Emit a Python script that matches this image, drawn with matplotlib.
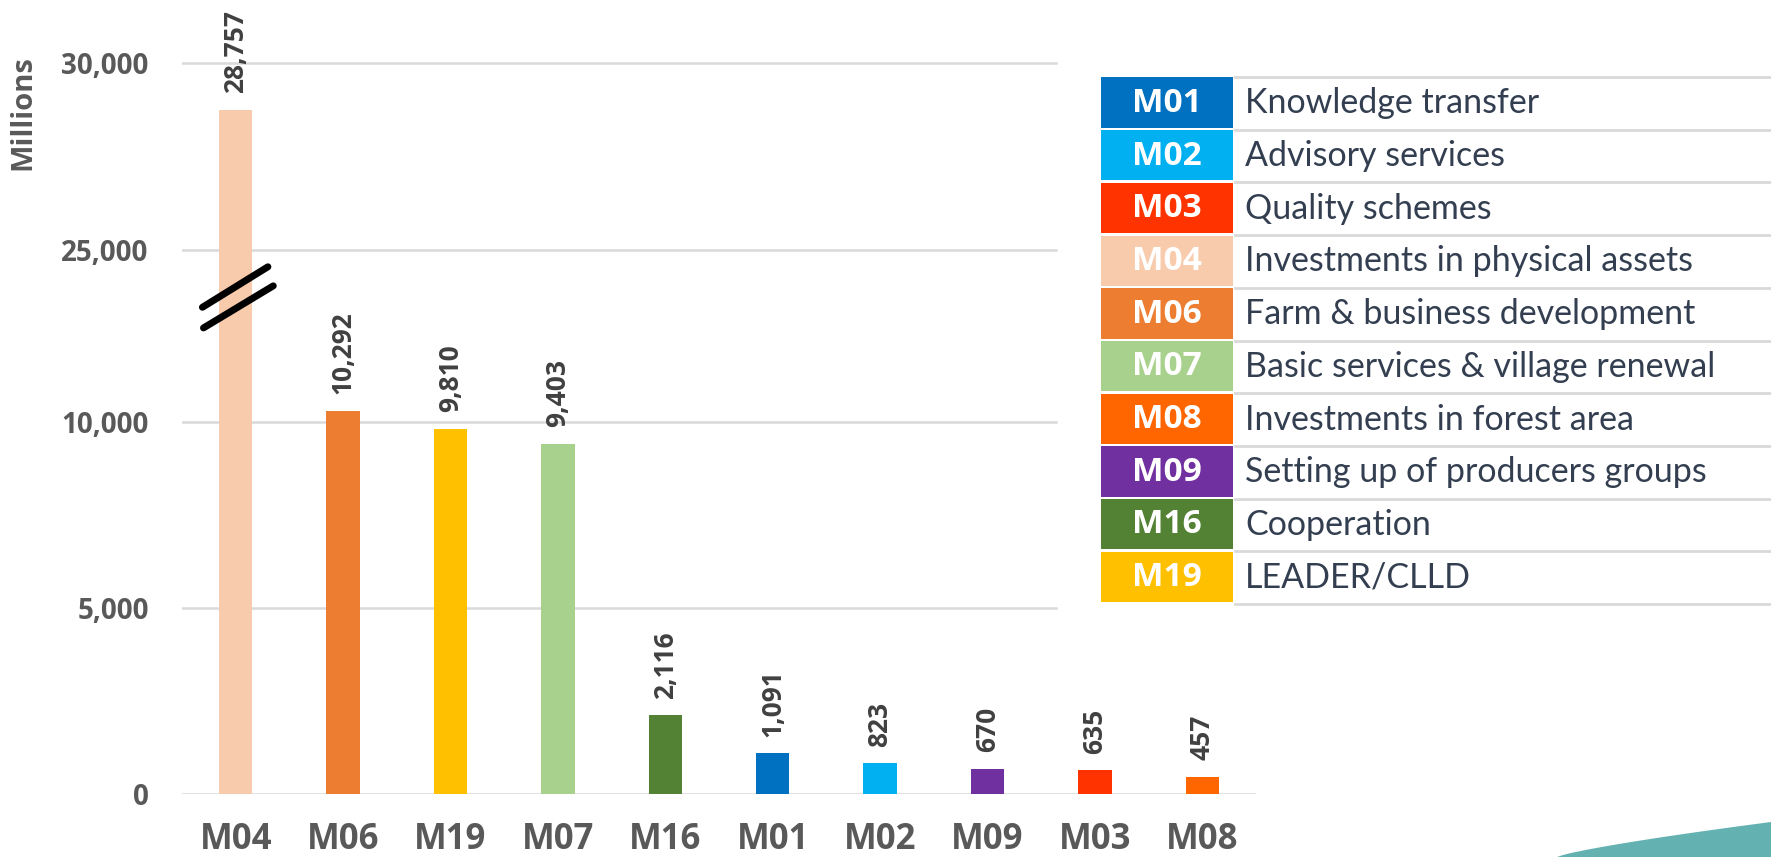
import numpy as np
import matplotlib.pyplot as plt
from matplotlib.patches import Rectangle, Polygon
from matplotlib.lines import Line2D
from matplotlib.transforms import blended_transform_factory

# bar data (sorted as in the chart)
codes = ['M04', 'M06', 'M19', 'M07', 'M16', 'M01', 'M02', 'M09', 'M03', 'M08']
values = [28757, 10292, 9810, 9403, 2116, 1091, 823, 670, 635, 457]

# legend table
legend_codes = ['M01', 'M02', 'M03', 'M04', 'M06', 'M07', 'M08', 'M09', 'M16', 'M19']
legend_names = ['Knowledge transfer', 'Advisory services', 'Quality schemes',
                'Investments in physical assets', 'Farm & business development',
                'Basic services & village renewal', 'Investments in forest area',
                'Setting up of producers groups', 'Cooperation', 'LEADER/CLLD']

yticks = [0, 5000, 10000, 25000, 30000]

colors = {'M01': '#0070C0', 'M02': '#00B0F0', 'M03': '#FF3300', 'M04': '#F8CBAD',
          'M06': '#ED7D31', 'M07': '#A9D18E', 'M08': '#FF6600', 'M09': '#7030A0',
          'M16': '#548235', 'M19': '#FFC000'}

# broken axis: squeeze 12,000-24,000 into a short span
LOW, HIGH, SHIFT = 12000, 24000, 10380


def fwd(v):
    v = np.asarray(v, float)
    top = HIGH - SHIFT
    mid = LOW + (v - LOW) * (top - LOW) / (HIGH - LOW)
    return np.where(v <= LOW, v, np.where(v >= HIGH, v - SHIFT, mid))


def inv(y):
    y = np.asarray(y, float)
    top = HIGH - SHIFT
    mid = LOW + (y - LOW) * (HIGH - LOW) / (top - LOW)
    return np.where(y <= LOW, y, np.where(y >= top, y + SHIFT, mid))


W, H = 1771, 857
fig = plt.figure(figsize=(W / 100, H / 100), dpi=100)
ax = fig.add_axes([182 / W, 63 / H, 1074 / W, 794 / H])
ax.set_yscale('function', functions=(fwd, inv))

x = np.arange(len(codes))
ax.bar(x, values, width=0.31, color=[colors[c] for c in codes], zorder=2)

for t in yticks:
    ax.axhline(t, xmin=0, xmax=1 if t == 0 else 0.814, color='#D9D9D9', lw=1.8, zorder=1)

for i, v in enumerate(values):
    ax.annotate(f'{v:,}', (i, v), xytext=(0, 12), textcoords='offset points',
                rotation=90, ha='center', va='bottom', fontsize=19,
                fontweight='bold', color='#404040', family='Open Sans')

ax.set_xlim(-0.5, 9.5)
ax.set_ylim(0, float(inv(21321)))
ax.set_yticks(yticks)
ax.set_yticklabels([f'{t:,}' for t in yticks])
ax.yaxis.set_minor_locator(plt.NullLocator())
ax.set_xticks(x)
ax.set_xticklabels(codes)
ax.tick_params(length=0)
ax.tick_params(axis='y', pad=24, labelsize=20, labelcolor='#595959')
ax.tick_params(axis='x', pad=20, labelsize=25, labelcolor='#595959')
for lab in ax.get_yticklabels():
    lab.set_family('Open Sans')
    lab.set_fontweight('bold')
for lab in ax.get_xticklabels():
    lab.set_family('Open Sans')
    lab.set_fontweight('bold')
for s in ax.spines.values():
    s.set_visible(False)

# break marks on the tall bar
tr = blended_transform_factory(ax.transData, ax.transAxes)
ax.plot([-0.31, 0.30], [0.613, 0.664], transform=tr, color='black', lw=5,
        solid_capstyle='round', zorder=5, clip_on=False)
ax.plot([-0.30, 0.35], [0.587, 0.640], transform=tr, color='black', lw=5,
        solid_capstyle='round', zorder=5, clip_on=False)

fig.text(23 / W, 1 - 113 / H, 'Millions', rotation=90, ha='center', va='center',
         fontsize=21, fontweight='bold', color='#595959', family='Open Sans')

# legend table on the right
top0, pitch = 77, 52.7
for k, (code, name) in enumerate(zip(legend_codes, legend_names)):
    top = top0 + k * pitch
    fig.add_artist(Rectangle((1101 / W, 1 - (top + pitch - 2) / H), 132 / W, (pitch - 2.5) / H,
                             transform=fig.transFigure, facecolor=colors[code],
                             edgecolor='none'))
    fig.text(1167 / W, 1 - (top + pitch / 2) / H, code, ha='center', va='center',
             fontsize=24, fontweight='bold', color='white', family='Open Sans')
    fig.text(1245 / W, 1 - (top + pitch / 2) / H, name, ha='left', va='center',
             fontsize=24.5, color='#333F50', family='Lato')
    fig.add_artist(Line2D([1235 / W, 1], [1 - top / H] * 2, color='#D9D9D9', lw=2,
                          transform=fig.transFigure))
bottom = top0 + len(legend_codes) * pitch
fig.add_artist(Line2D([1235 / W, 1], [1 - bottom / H] * 2, color='#D9D9D9', lw=2,
                      transform=fig.transFigure))

# teal corner decoration
sx = np.linspace(1557, W, 40)
sy = 857 - 35 * ((sx - 1557) / (W - 1557)) ** 0.8
pts = [(px / W, 1 - py / H) for px, py in zip(sx, sy)] + [(1, 0)]
fig.add_artist(Polygon(pts, closed=True, transform=fig.transFigure,
                       facecolor='#64B1B1', edgecolor='none'))

fig.savefig('out.png', dpi=100)
